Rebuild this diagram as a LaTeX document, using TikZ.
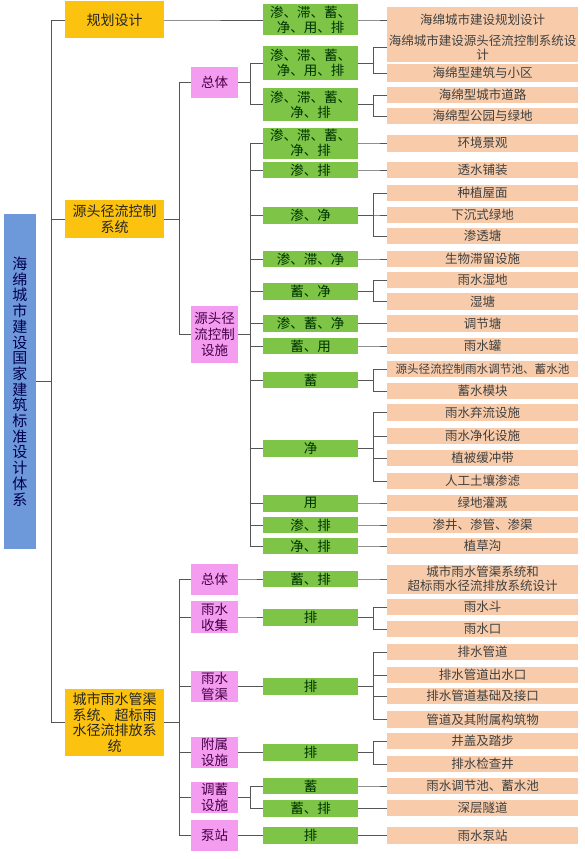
\documentclass[tikz,border=0pt]{standalone}
\usepackage{fontspec}
\setmainfont{Noto Sans CJK SC}
\usepackage{tikz}
\definecolor{rootblue}{HTML}{6D98D9}
\definecolor{sysyellow}{HTML}{FBC20F}
\definecolor{partpink}{HTML}{F49CF0}
\definecolor{funcgreen}{HTML}{7DC447}
\definecolor{itempeach}{HTML}{F8CCAA}
\definecolor{linegray}{HTML}{555555}

\begin{document}
\begin{tikzpicture}[x=1pt, y=-1pt,
  box/.style={fill=#1, inner sep=0pt, align=center},
  sys/.style={box=sysyellow, minimum width=99pt, text=black!85, font=\fontsize{14}{15.5}\selectfont},
  part/.style={box=partpink, minimum width=47pt, text=violet!55!black, font=\fontsize{13.5}{16}\selectfont},
  func/.style={box=funcgreen, minimum width=95pt, text=black!80!green, font=\fontsize{13.5}{15}\selectfont},
  item/.style={box=itempeach, minimum width=191pt, text=black!75, font=\fontsize{12.5}{14}\selectfont},
  link/.style={draw=linegray, line width=0.9pt}]
\useasboundingbox (0,0) rectangle (585,859);
% root and systems
\node[box=rootblue, minimum width=32pt, minimum height=335pt, text=blue!30!black, font=\fontsize{15}{15.7}\selectfont] (root) at (20,381.5)
  {海\\绵\\城\\市\\建\\设\\国\\家\\建\\筑\\标\\准\\设\\计\\体\\系};
\node[sys, minimum height=37pt] (plan) at (114.5,20) {规划设计};
\node[sys, minimum height=38pt] (src) at (114.5,219) {源头径流控制\\系统};
\node[sys, minimum height=67pt] (pipe) at (114.5,722.5) {城市雨水管渠\\系统、超标雨\\水径流排放系\\统};
% parts
\foreach \n/\y/\hh/\txt in {whole/82.5/31/总体, fac/334.5/57/源头径\\流控制\\设施,
  pwhole/579/31/总体, collect/617/32/雨水\\收集, conduit/686.5/31/雨水\\管渠,
  attach/752.5/31/附属\\设施, store/797.5/31/调蓄\\设施, pump/835.5/31/泵站}
  \node[part, minimum height=\hh] (\n) at (214.5,\y) {\txt};
% functions
\foreach \n/\y/\hh/\txt in {g1/20/31/渗、滞、蓄、\\净、用、排, g2/63/34/渗、滞、蓄、\\净、用、排,
  g3/104.5/33/渗、滞、蓄、\\净、排, f1/143/31/渗、滞、蓄、\\净、排, f2/170/16.5/渗、排,
  f3/215/17/渗、净, f4/259/16.5/渗、滞、净, f5/291/17/蓄、净, f6/323.5/17/渗、蓄、净,
  f7/346/16.5/蓄、用, f8/380/16.5/蓄, f9/448/17/净, f10/503/17/用, f11/525/16.5/渗、排,
  f12/546/16.5/净、排, p1/579/16.5/蓄、排, p2/617/17/排, p3/686.5/17/排, p4/752.5/17/排,
  p5/786/16/蓄, p6/808/17/蓄、排, p7/835.5/17/排}
  \node[func, minimum height=\hh] (\n) at (310.5,\y) {\txt};
% standards
\foreach \n/\y/\hh/\txt in {o1/20/26/海绵城市建设规划设计, o2/47.5/29/海绵城市建设源头径流控制系统设\\计,
  o3/73/17/海绵型建筑与小区, o4/95/16.5/海绵型城市道路, o5/116/16.5/海绵型公园与绿地,
  h1/143/17/环境景观, h2/170/16.5/透水铺装, h3/193/16.5/种植屋面, h4/215/16.5/下沉式绿地,
  h5/236/16.5/渗透塘, h6/259/16.5/生物滞留设施, h7/280/16.5/雨水湿地, h8/301.5/17/湿塘,
  h9/323.5/17/调节塘, h10/346/16.5/雨水罐,
  h11/369/16.5/{\fontsize{11.6}{13}\selectfont 源头径流控制雨水调节池、蓄水池},
  h12/391/16.5/蓄水模块, h13/412.5/17/雨水弃流设施, h14/436/16.5/雨水净化设施,
  h15/458/16.5/植被缓冲带, h16/481/16.5/人工土壤渗滤, h17/503/16.5/绿地灌溉,
  h18/525/16.5/渗井、渗管、渗渠, h19/546/16.5/植草沟,
  q1/579/29/城市雨水管渠系统和\\超标雨水径流排放系统设计, q2/607/16.5/雨水斗, q3/629/16.5/雨水口,
  q4/652/16.5/排水管道, q5/675/16.5/排水管道出水口, q6/696/16.5/排水管道基础及接口,
  q7/719.5/17/管道及其附属构筑物, q8/741/16.5/井盖及踏步, q9/764/16.5/排水检查井,
  q10/786/16.5/雨水调节池、蓄水池, q11/808/16.5/深层隧道, q12/835.5/17/雨水泵站}
  \node[item, minimum height=\hh] (\n) at (482.5,\y) {\txt};
% connectors
\foreach \a/\b in {root/plan, root/src, root/pipe, src/whole, src/fac, pipe/pwhole, pipe/collect,
  pipe/conduit, pipe/attach, pipe/store, pipe/pump, plan/g1}
  \draw[link] (\a.east) -- ([xshift=15pt]\a.east) |- (\b.west);
\foreach \a/\b in {whole/g2, whole/g3, fac/f1, fac/f2, fac/f3, fac/f4, fac/f5, fac/f6, fac/f7,
  fac/f8, fac/f9, fac/f10, fac/f11, fac/f12, pwhole/p1, collect/p2, conduit/p3, attach/p4,
  store/p5, store/p6, pump/p7}
  \draw[link] (\a.east) -- ([xshift=12.5pt]\a.east) |- (\b.west);
\foreach \a/\b in {g1/o1, g2/o2, g2/o3, g3/o4, g3/o5, f1/h1, f2/h2, f3/h3, f3/h4, f3/h5, f4/h6,
  f5/h7, f5/h8, f6/h9, f7/h10, f8/h11, f8/h12, f9/h13, f9/h14, f9/h15, f9/h16, f10/h17,
  f11/h18, f12/h19, p1/q1, p2/q2, p2/q3, p3/q4, p3/q5, p3/q6, p3/q7, p4/q8, p4/q9,
  p5/q10, p6/q11, p7/q12}
  \draw[link] (\a.east) -- ([xshift=15pt]\a.east) |- (\b.west);
\end{tikzpicture}
\end{document}
